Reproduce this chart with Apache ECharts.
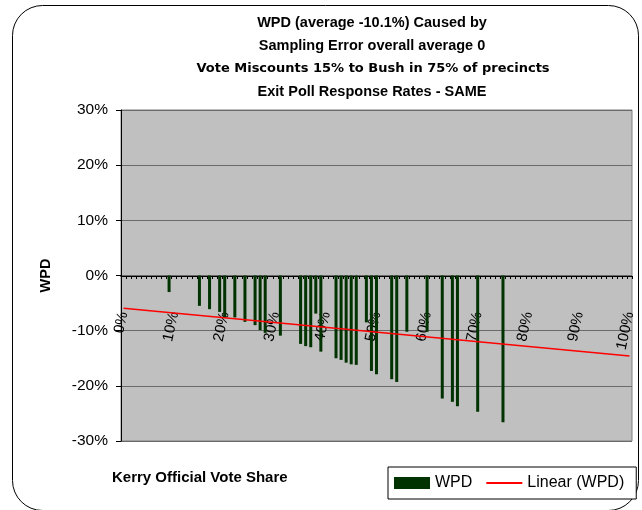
<!DOCTYPE html>
<html>
<head>
<meta charset="utf-8">
<script src="https://cdn.jsdelivr.net/npm/echarts@6/dist/echarts.min.js"></script>
<style>
  html, body { margin: 0; padding: 0; background: #fff; }
  #chart { width: 642px; height: 510px; }
</style>
</head>
<body>
<div id="chart"></div>
<script>
// Kerry official vote share (%) of each precinct bar and its WPD (%)
var shares = [9, 15, 17, 19, 20, 22, 24, 26, 27, 28, 31, 35, 36, 37, 38, 39, 42, 43, 44, 45, 46,
              48, 49, 50, 53, 54, 56, 60, 63, 65, 66, 70, 75];
var wpd = [-3.0, -5.5, -6.1, -6.6, -7.6, -7.6, -8.4, -9.0, -9.9, -10.4, -10.9, -12.4, -12.8, -13.0, -6.9, -13.8,
           -15.0, -15.3, -15.8, -16.1, -16.2, -8.5, -17.3, -17.9, -18.8, -19.3, -10.2, -10.2, -22.3, -22.9,
           -23.7, -24.7, -26.6];
// linear trend end points
var trendShares = [0, 100];
var trendWpd = [-5.95, -14.6];
// y axis ticks
var yTicks = [-30, -20, -10, 0, 10, 20, 30];
var titleLines = [
  'WPD (average -10.1%) Caused by',
  'Sampling Error overall average 0',
  'Vote Miscounts 15% to Bush in 75% of precincts',
  'Exit Poll Response Rates - SAME'
];

var categories = [];
for (var i = 0; i <= 100; i++) categories.push(i + '%');

var font = 'Liberation Sans, Arial, sans-serif';

var myChart = echarts.init(document.getElementById('chart'));
var options = {
  animation: false,
  textStyle: { fontFamily: font },
  title: [
    { text: titleLines[0], left: 367, top: 10, textAlign: 'center',
      textStyle: { fontSize: 14.5, fontWeight: 'bold', color: '#000', fontFamily: font } },
    { text: titleLines[1], left: 367, top: 33, textAlign: 'center',
      textStyle: { fontSize: 14.5, fontWeight: 'bold', color: '#000', fontFamily: font } },
    { text: titleLines[2], left: 368, top: 57, textAlign: 'center',
      textStyle: { fontSize: 13, fontWeight: 'bold', color: '#000', fontFamily: 'DejaVu Sans' } },
    { text: titleLines[3], left: 367, top: 79, textAlign: 'center',
      textStyle: { fontSize: 14.5, fontWeight: 'bold', color: '#000', fontFamily: font } }
  ],
  graphic: [{
    type: 'rect',
    shape: { x: 12.5, y: 5.5, width: 626, height: 505, r: 30 },
    style: { fill: 'none', stroke: '#000', lineWidth: 1 },
    z: -10
  }, {
    type: 'text',
    left: 112, top: 470,
    style: { text: 'Kerry Official Vote Share', fontSize: 15, fontWeight: 'bold', fill: '#000', fontFamily: font }
  }],
  legend: {
    left: 388, top: 467,
    padding: [8, 12, 8, 6],
    itemGap: 13,
    itemWidth: 36, itemHeight: 12,
    borderColor: '#000', borderWidth: 1, borderRadius: 0,
    backgroundColor: '#fff',
    textStyle: { fontSize: 16, color: '#000', fontFamily: font },
    data: [
      { name: 'WPD', icon: 'rect' },
      { name: 'Linear (WPD)', itemStyle: { opacity: 0 } }
    ]
  },
  grid: {
    left: 121, top: 110, right: 10, bottom: 69,
    show: true, backgroundColor: '#c0c0c0', borderColor: '#808080', borderWidth: 1,
    containLabel: false
  },
  xAxis: {
    type: 'category',
    data: categories,
    boundaryGap: true,
    offset: -165,
    axisLine: { onZero: false, lineStyle: { color: '#000', width: 1 } },
    axisTick: { show: true, interval: 0, length: 3, lineStyle: { color: '#000' } },
    axisLabel: { interval: 9, rotate: 78, margin: 36, fontSize: 15, color: '#000', fontFamily: font },
    splitLine: { show: false }
  },
  yAxis: {
    type: 'value',
    min: yTicks[0], max: yTicks[yTicks.length - 1], interval: yTicks[1] - yTicks[0],
    name: 'WPD', nameLocation: 'middle', nameGap: 68, nameRotate: 90,
    nameTextStyle: { fontSize: 14.5, fontWeight: 'bold', color: '#000', fontFamily: font },
    axisLine: { show: true, lineStyle: { color: '#000' } },
    axisTick: { show: true, length: 5, lineStyle: { color: '#000' } },
    axisLabel: { formatter: '{value}%', fontSize: 15.5, color: '#000', margin: 13, fontFamily: font },
    splitLine: { show: true, lineStyle: { color: '#6a6a6a', width: 1 } }
  },
  series: [
    {
      name: 'WPD',
      type: 'bar',
      barWidth: 3,
      itemStyle: { color: '#003300' },
      data: shares.map(function (s, i) { return [s + '%', wpd[i]]; }),
      z: 2
    },
    {
      name: 'Linear (WPD)',
      type: 'line',
      symbol: 'none',
      lineStyle: { color: '#ff0000', width: 1.5 },
      itemStyle: { color: '#ff0000' },
      data: trendShares.map(function (s, i) { return [s + '%', trendWpd[i]]; }),
      z: 3
    }
  ]
};
myChart.setOption(options);
</script>
</body>
</html>
